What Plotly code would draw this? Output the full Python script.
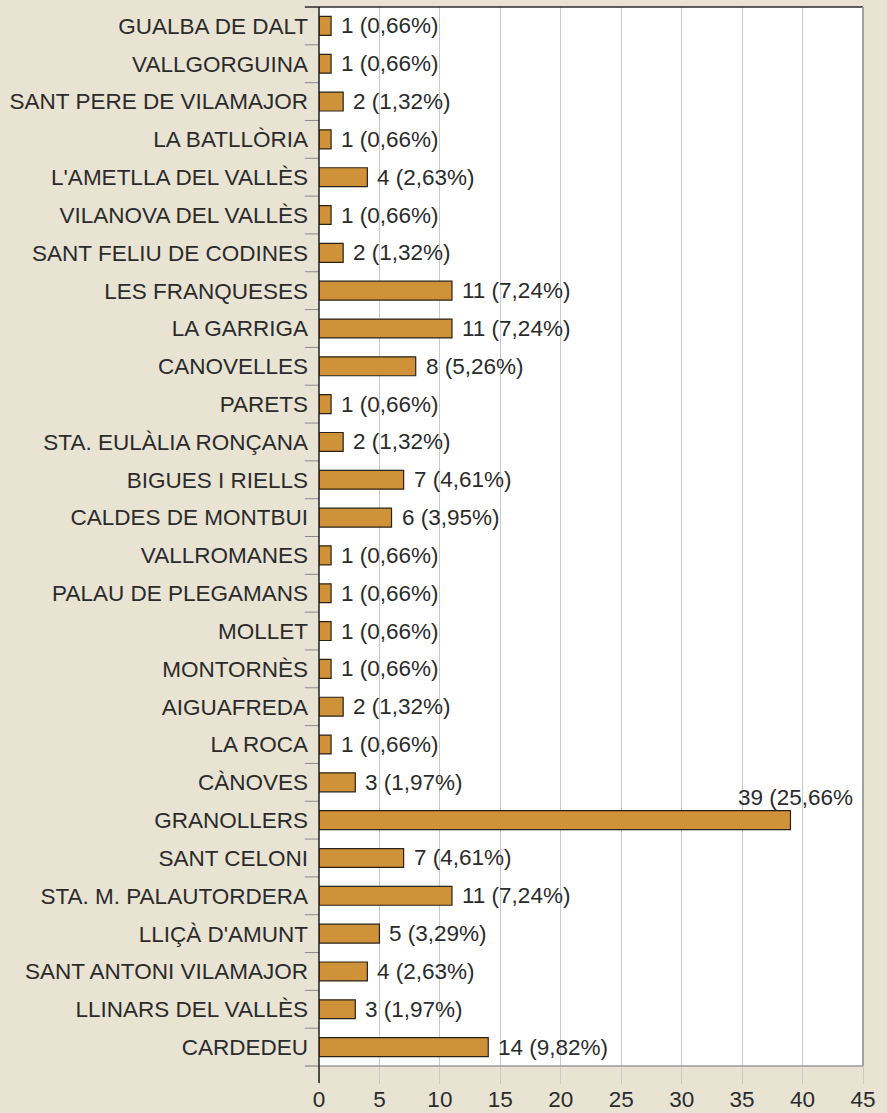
import plotly.graph_objects as go

municipis = [
    "GUALBA DE DALT", "VALLGORGUINA", "SANT PERE DE VILAMAJOR", "LA BATLLÒRIA",
    "L'AMETLLA DEL VALLÈS", "VILANOVA DEL VALLÈS", "SANT FELIU DE CODINES",
    "LES FRANQUESES", "LA GARRIGA", "CANOVELLES", "PARETS", "STA. EULÀLIA RONÇANA",
    "BIGUES I RIELLS", "CALDES DE MONTBUI", "VALLROMANES", "PALAU DE PLEGAMANS",
    "MOLLET", "MONTORNÈS", "AIGUAFREDA", "LA ROCA", "CÀNOVES", "GRANOLLERS",
    "SANT CELONI", "STA. M. PALAUTORDERA", "LLIÇÀ D'AMUNT", "SANT ANTONI VILAMAJOR",
    "LLINARS DEL VALLÈS", "CARDEDEU",
]
valors = [1, 1, 2, 1, 4, 1, 2, 11, 11, 8, 1, 2, 7, 6, 1, 1, 1, 1, 2, 1, 3, 39,
          7, 11, 5, 4, 3, 14]
etiquetes = [
    "1 (0,66%)", "1 (0,66%)", "2 (1,32%)", "1 (0,66%)", "4 (2,63%)", "1 (0,66%)",
    "2 (1,32%)", "11 (7,24%)", "11 (7,24%)", "8 (5,26%)", "1 (0,66%)", "2 (1,32%)",
    "7 (4,61%)", "6 (3,95%)", "1 (0,66%)", "1 (0,66%)", "1 (0,66%)", "1 (0,66%)",
    "2 (1,32%)", "1 (0,66%)", "3 (1,97%)", "39 (25,66%", "7 (4,61%)", "11 (7,24%)",
    "5 (3,29%)", "4 (2,63%)", "3 (1,97%)", "14 (9,82%)",
]
x_ticks = [0, 5, 10, 15, 20, 25, 30, 35, 40, 45]

BG = "#e9e3d4"
BAR = "#cf9238"
TXT = "#2b2b2b"
GRID = "#c9c9c9"
FONT = "Liberation Sans, Arial, sans-serif"
FS = 22.5

fig = go.Figure()
fig.add_trace(go.Bar(
    x=valors, y=municipis, orientation="h",
    marker=dict(color=BAR, line=dict(color="#2a2218", width=1.2)),
    width=0.5, hoverinfo="skip",
))

annotations = []
for m, v, t in zip(municipis, valors, etiquetes):
    if v == max(valors):
        annotations.append(dict(x=v, y=m, text=t, showarrow=False, xanchor="center",
                                yanchor="middle", xshift=5, yshift=23,
                                font=dict(size=FS, color=TXT, family=FONT)))
    else:
        annotations.append(dict(x=v, y=m, text=t, showarrow=False, xanchor="left",
                                yanchor="middle", xshift=8,
                                font=dict(size=FS, color=TXT, family=FONT)))

shapes = []
# category boundary ticks on the left
for i in range(1, len(municipis)):
    shapes.append(dict(type="line", xref="paper", yref="y", x0=-0.026, x1=0,
                       y0=i - 0.5, y1=i - 0.5, line=dict(color="#8a8a8a", width=1)))
shapes += [
    # top border (dark) extending slightly left
    dict(type="line", xref="paper", yref="paper", x0=-0.026, x1=1, y0=1, y1=1,
         line=dict(color="#2b2b2b", width=1.5)),
    # bottom border (gray)
    dict(type="line", xref="paper", yref="paper", x0=-0.026, x1=1, y0=0, y1=0,
         line=dict(color="#9a9a9a", width=1.5)),
    # right border
    dict(type="line", xref="paper", yref="paper", x0=1, x1=1, y0=0, y1=1,
         line=dict(color="#a0a0a0", width=2)),
    # left axis (dark) extending below
    dict(type="line", xref="paper", yref="paper", x0=0, x1=0, y0=-0.016, y1=1,
         line=dict(color="#1e1e1e", width=1.5)),
]

fig.update_layout(
    width=887, height=1113,
    margin=dict(l=319, r=24, t=7, b=47, autoexpand=False),
    paper_bgcolor=BG, plot_bgcolor="white",
    showlegend=False,
    font=dict(family=FONT, size=FS, color=TXT),
    annotations=annotations, shapes=shapes,
    xaxis=dict(range=[0, 45], tickvals=x_ticks, showgrid=True, gridcolor=GRID,
               gridwidth=1, zeroline=False, ticks="outside", ticklen=17,
               tickcolor=GRID, tickwidth=1, showline=False, ticklabelstandoff=-4,
               tickfont=dict(size=FS, color=TXT, family=FONT)),
    yaxis=dict(autorange="reversed", ticks="", showgrid=False,
               showline=False, zeroline=False, ticklabelstandoff=10,
               tickfont=dict(size=FS, color=TXT, family=FONT)),
    bargap=0.5,
)

fig.write_html("out.html", config={"displayModeBar": False},
               post_script="document.body.style.margin='0px';")
